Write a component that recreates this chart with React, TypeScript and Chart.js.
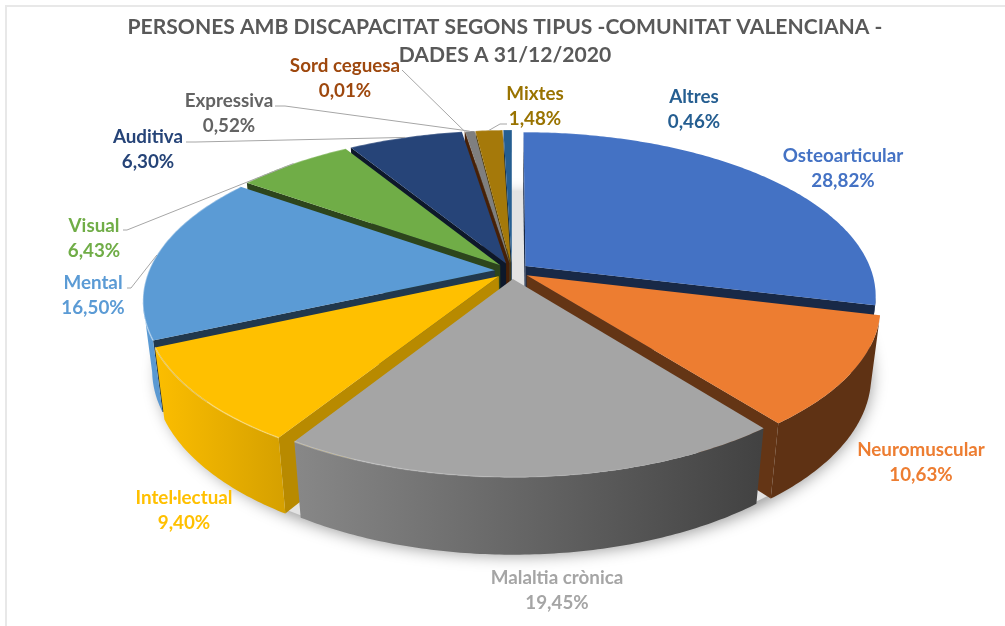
import React, { useEffect, useRef } from "react";
import { Chart, registerables } from "chart.js";

Chart.register(...registerables);

const titleLines = ["PERSONES AMB DISCAPACITAT SEGONS TIPUS -COMUNITAT VALENCIANA -", "DADES A 31/12/2020"];
const categories = ["Osteoarticular", "Neuromuscular", "Malaltia crònica", "Intel·lectual", "Mental", "Visual", "Auditiva", "Sord ceguesa", "Expressiva", "Mixtes", "Altres"];
const values = [28.82, 10.63, 19.45, 9.4, 16.5, 6.43, 6.3, 0.01, 0.52, 1.48, 0.46];
const sliceColors = ["#4472c4", "#ed7d31", "#a5a5a5", "#ffc000", "#5b9bd5", "#70ad47", "#264478", "#9e480e", "#7f7f7f", "#a5790a", "#255e91"];
const labelColors = ["#4472c4", "#ed7d31", "#a5a5a5", "#ffc000", "#5b9bd5", "#70ad47", "#264478", "#9e480e", "#636363", "#997300", "#255e91"];
const radialWallShade = [0.36, 0.42, 0.5, 0.72, 0.36, 0.4, 0.35, 0.45, 0.5, 0.5, 0.5];
// centre of each data label's first line
const labelX = [843, 921, 557, 184, 93, 94, 148, 345, 229, 535, 694];
const labelY = [156, 450, 578, 498, 283, 226, 137, 66, 101, 94, 97];
// where a leader line starts, or null if the label has none
const leaderFrom: (number[] | null)[] = [null, null, null, null, [127, 288, 131, 288], [123, 230, 127, 230], [186, 142, 196, 142], [402, 70, 402, 70], [275, 106, 285, 106], [507, 124, 500, 124], null];

const FONT = "Lato, 'Open Sans', sans-serif";
const CX = 512, CY = 271, A = 346, B = 159.5, H = 70, P = 0.179, K = 0.025, EXPLODE = 0.05, STEP = 0.012;

function project(x: number, y: number, z: number): [number, number] {
  const w = 1 - P * y + K * z;
  return [CX + (A * x) / w, CY + (B * y + H * z) / w];
}
function shade(hex: string, f: number) {
  const n = parseInt(hex.slice(1), 16);
  const c = (s: number) => Math.round(((n >> s) & 255) * f);
  return `rgb(${c(16)},${c(8)},${c(0)})`;
}
function path(ctx: CanvasRenderingContext2D, pts: [number, number][]) {
  ctx.beginPath();
  pts.forEach((p, i) => (i ? ctx.lineTo(p[0], p[1]) : ctx.moveTo(p[0], p[1])));
  ctx.closePath();
}
function angles(a0: number, a1: number) {
  const list: number[] = [];
  const n = Math.max(2, Math.ceil((a1 - a0) / STEP));
  for (let i = 0; i <= n; i++) list.push(a0 + ((a1 - a0) * i) / n);
  return list;
}
function rim(list: number[], dx: number, dy: number, z: number) {
  return list.map((a) => project(dx + Math.cos(a), dy + Math.sin(a), z));
}

const pie3d = {
  id: "pie3d",
  beforeDatasetDraw(chart: any) {
    const ctx: CanvasRenderingContext2D = chart.ctx;
    const arcs = chart.getDatasetMeta(0).data as any[];
    // ground shadow
    ctx.save();
    const disc = rim(angles(0, Math.PI * 2), 0, 0, 1).map(([x, y]) => [CX + (x - CX) * 1.04, CY + H / 0.98 + (y - CY - H / 0.98) * 1.04] as [number, number]);
    path(ctx, disc);
    ctx.shadowColor = "rgba(0,0,0,0.4)";
    ctx.shadowBlur = 16;
    ctx.shadowOffsetY = 5;
    ctx.shadowOffsetX = 3;
    ctx.fillStyle = "#e3e3e3";
    ctx.fill();
    ctx.restore();

    const order = arcs.map((_, i) => i).sort((i, j) => {
      const mid = (k: number) => Math.sin((arcs[k].startAngle + arcs[k].endAngle) / 2);
      return mid(i) - mid(j);
    });
    order.forEach((i) => {
      const { startAngle: a0, endAngle: a1 } = arcs[i];
      const color = sliceColors[i];
      const m = (a0 + a1) / 2;
      const dx = EXPLODE * Math.cos(m), dy = EXPLODE * Math.sin(m);
      // radial walls, drawn only when they face the camera
      const radial = (a: number, sign: number) => {
        const nx = -sign * Math.sin(a), ny = sign * Math.cos(a);
        const px = dx + 0.5 * Math.cos(a), py = dy + 0.5 * Math.sin(a);
        if (nx * (0 - px) + ny * (1 / P - py) <= 0) return;
        const ex = dx + Math.cos(a), ey = dy + Math.sin(a);
        path(ctx, [project(dx, dy, 0), project(ex, ey, 0), project(ex, ey, 1), project(dx, dy, 1)]);
        ctx.fillStyle = shade(color, radialWallShade[i]);
        ctx.fill();
      };
      radial(a0, -1);
      radial(a1, 1);
      // outer wall: only the part of the rim that faces the camera
      const all = angles(a0, a1);
      const front = all.filter((a) => {
        const px = dx + Math.cos(a), py = dy + Math.sin(a);
        return Math.cos(a) * (0 - px) + Math.sin(a) * (1 / P - py) > 0;
      });
      if (front.length > 1) {
        const grad = ctx.createLinearGradient(145, 0, 760, 0);
        grad.addColorStop(0, shade(color, 1));
        grad.addColorStop(0.25, shade(color, 0.82));
        grad.addColorStop(1, shade(color, 0.4));
        path(ctx, [...rim(front, dx, dy, 0), ...rim(front, dx, dy, 1).reverse()]);
        ctx.fillStyle = grad;
        ctx.fill();
      }
      // top face
      const top = rim(all, dx, dy, 0);
      path(ctx, [project(dx, dy, 0), ...top]);
      ctx.fillStyle = color;
      ctx.fill();
      // rim highlight
      const hl = ctx.createLinearGradient(150, 0, 700, 0);
      hl.addColorStop(0, "rgba(255,255,255,0.4)");
      hl.addColorStop(1, "rgba(255,255,255,0)");
      ctx.beginPath();
      top.forEach((p, k) => (k ? ctx.lineTo(p[0], p[1]) : ctx.moveTo(p[0], p[1])));
      ctx.strokeStyle = hl;
      ctx.lineWidth = 1.5;
      ctx.stroke();
    });
    return false;
  },
  afterDraw(chart: any) {
    const ctx: CanvasRenderingContext2D = chart.ctx;
    const arcs = chart.getDatasetMeta(0).data as any[];
    // frame
    ctx.save();
    ctx.fillStyle = "#e8e8e8";
    ctx.fillRect(5, 5, 1000, 2);
    ctx.fillRect(5, 5, 2, 621);
    // leader lines
    ctx.strokeStyle = "#a6a6a6";
    ctx.lineWidth = 1;
    arcs.forEach((arc, i) => {
      const from = leaderFrom[i];
      if (!from) return;
      const m = (arc.startAngle + arc.endAngle) / 2;
      const end = project((1 + EXPLODE) * Math.cos(m), (1 + EXPLODE) * Math.sin(m), 0);
      ctx.beginPath();
      ctx.moveTo(from[0], from[1]);
      ctx.lineTo(from[2], from[3]);
      ctx.lineTo(end[0], end[1]);
      ctx.stroke();
    });
    // labels
    ctx.textAlign = "center";
    ctx.textBaseline = "middle";
    ctx.font = `bold 18.8px ${FONT}`;
    categories.forEach((name, i) => {
      ctx.fillStyle = labelColors[i];
      ctx.fillText(name, labelX[i], labelY[i]);
      ctx.fillText(values[i].toFixed(2).replace(".", ",") + "%", labelX[i], labelY[i] + 24.5);
    });
    ctx.restore();
  },
};

export default function App() {
  const ref = useRef<HTMLCanvasElement>(null);
  useEffect(() => {
    const chart = new Chart(ref.current!, {
      type: "pie",
      data: { labels: categories, datasets: [{ data: values, backgroundColor: sliceColors, borderWidth: 0 }] },
      options: {
        responsive: false,
        animation: false,
        events: [],
        layout: { padding: { left: 5 } },
        plugins: {
          legend: { display: false },
          tooltip: { enabled: false },
          title: {
            display: true,
            text: titleLines,
            color: "#595959",
            font: { family: FONT, size: 21.1, weight: "bold", lineHeight: 1.33 },
            padding: { top: 13, bottom: 0 },
          },
        },
      },
      plugins: [pie3d],
    } as any);
    return () => chart.destroy();
  }, []);
  return (
    <div style={{ position: "absolute", left: 0, top: 0, width: 1005, height: 626, background: "#fff" }}>
      <canvas ref={ref} width={1005} height={626} style={{ display: "block" }} />
    </div>
  );
}
